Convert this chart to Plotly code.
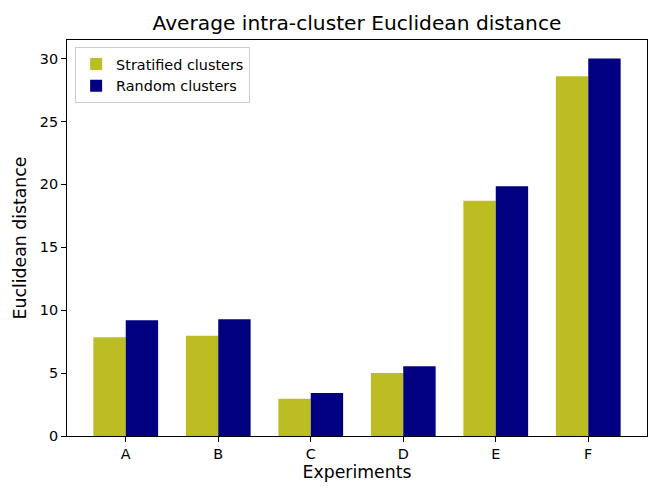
import plotly.graph_objects as go

# experiments and the two series of average distances
experiments = ["A", "B", "C", "D", "E", "F"]
stratified = [7.86, 7.96, 2.96, 5.0, 18.7, 28.6]
random_clusters = [9.2, 9.29, 3.41, 5.55, 19.85, 30.0]

fig = go.Figure()
fig.add_trace(go.Bar(x=experiments, y=stratified, name="Stratified clusters",
                     marker_color="#bcbd22", marker_line_width=0))
fig.add_trace(go.Bar(x=experiments, y=random_clusters, name="Random clusters",
                     marker_color="#000080", marker_line_width=0))

# page body has an 8px margin, so the figure is a bit smaller than the window
fig.update_layout(
    width=656, height=490,
    margin=dict(l=57, r=17, t=32, b=62),
    barmode="group", bargap=0.3, bargroupgap=0,
    plot_bgcolor="white", paper_bgcolor="white",
    font=dict(family="DejaVu Sans", color="black", size=14.4),
    title=dict(text="Average intra-cluster Euclidean distance", xref="paper", x=0.5,
               xanchor="center", y=0.969, yanchor="middle", font=dict(size=20.2)),
    legend=dict(x=0.014, y=0.982, xanchor="left", yanchor="top",
                bgcolor="white", bordercolor="#cccccc", borderwidth=1,
                font=dict(size=14.4)),
)
fig.update_xaxes(range=[-0.635, 5.635], showline=True, linecolor="black", linewidth=1,
                 mirror=True, ticks="outside", ticklen=5, tickcolor="black",
                 title=dict(text="Experiments", font=dict(size=17.3), standoff=4))
fig.update_yaxes(range=[0, 31.48], tickvals=[0, 5, 10, 15, 20, 25, 30], showgrid=False,
                 zeroline=False, showline=True, linecolor="black", linewidth=1,
                 mirror=True, ticks="outside", ticklen=5, tickcolor="black",
                 title=dict(text="Euclidean distance", font=dict(size=17.3), standoff=8))

fig.write_html("out.html")
